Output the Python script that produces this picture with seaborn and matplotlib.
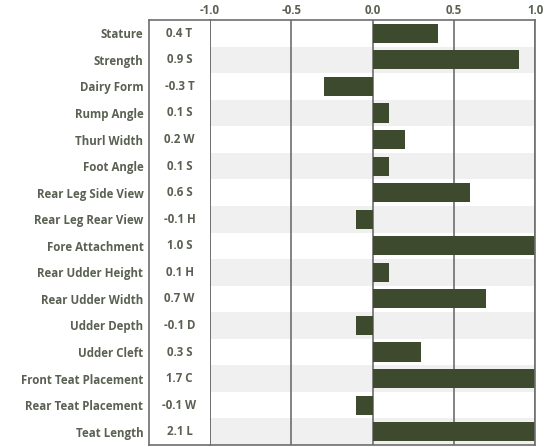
import matplotlib
matplotlib.use("Agg")
import matplotlib.pyplot as plt
import seaborn as sns
import pandas as pd

traits = ["Stature", "Strength", "Dairy Form", "Rump Angle", "Thurl Width",
          "Foot Angle", "Rear Leg Side View", "Rear Leg Rear View",
          "Fore Attachment", "Rear Udder Height", "Rear Udder Width",
          "Udder Depth", "Udder Cleft", "Front Teat Placement",
          "Rear Teat Placement", "Teat Length"]
values = [0.4, 0.9, -0.3, 0.1, 0.2, 0.1, 0.6, -0.1, 1.0, 0.1, 0.7, -0.1,
          0.3, 1.7, -0.1, 2.1]
letters = ["T", "S", "T", "S", "W", "S", "S", "H", "S", "H", "W", "D",
           "S", "C", "W", "L"]
xticks = [-1.0, -0.5, 0.0, 0.5, 1.0]
xtick_labels = ["-1.0", "-0.5", "0.0", "0.5", "1.0"]

sns.set_style("white")
plt.rcParams["font.family"] = ["Open Sans", "DejaVu Sans"]

df = pd.DataFrame({"trait": traits, "value": values})

W, H = 548, 447
fig = plt.figure(figsize=(W / 100, H / 100), dpi=100)
top_px, bot_px = 20, 445
ax = fig.add_axes([210 / W, 1 - bot_px / H, (535 - 210) / W, (bot_px - top_px) / H])
axv = fig.add_axes([149 / W, 1 - bot_px / H, (210 - 149) / W, (bot_px - top_px) / H], sharey=ax)

text_color = "#5a6052"
line_color = "#6e6e6e"
bar_color = "#3e4a2d"
fs = 8.3

n = len(traits)
for i in range(n):
    if i % 2 == 1:
        ax.axhspan(i - 0.5, i + 0.5, color="#f0f0f0", zorder=0, lw=0)

for xt in xticks:
    ax.axvline(xt, color=line_color, lw=1.2, zorder=1)

sns.barplot(data=df, x="value", y="trait", orient="h", color=bar_color,
            saturation=1, width=0.72, ax=ax, zorder=2, linewidth=0)

ax.set_xlim(-1.0, 1.0)
ax.set_ylim(n - 0.5, -0.5)
ax.set_xlabel("")
ax.set_ylabel("")
ax.xaxis.tick_top()
ax.set_xticks(xticks)
ax.set_xticklabels(xtick_labels, fontsize=fs, fontweight="bold", color=text_color)
ax.tick_params(axis="x", length=0, pad=2)
ax.tick_params(axis="y", left=False, labelleft=False)
for s in ax.spines.values():
    s.set_color(line_color)
    s.set_linewidth(1.2)

axv.set_xlim(0, 1)
axv.set_xticks([])
axv.set_yticks(range(n))
axv.set_yticklabels(traits, fontsize=fs, fontweight="bold", color=text_color)
axv.tick_params(axis="y", length=0, pad=4)
for i, (v, l) in enumerate(zip(values, letters)):
    axv.text(0.5, i, f"{v:.1f} {l}", ha="center", va="center",
             fontsize=fs, fontweight="bold", color=text_color)
for name, s in axv.spines.items():
    s.set_color(line_color)
    s.set_linewidth(1.2)
axv.spines["right"].set_visible(False)
axv.set_ylabel("")

fig.savefig("out.png", dpi=100)
